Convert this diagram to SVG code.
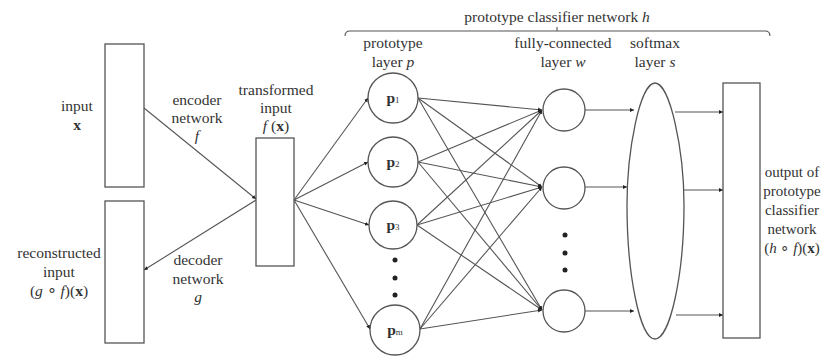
<svg xmlns="http://www.w3.org/2000/svg" width="822" height="356" viewBox="0 0 822 356">
<style>
text{font-family:"Liberation Serif","Times New Roman",serif;font-size:15.5px;fill:#333;text-anchor:middle}
.box{fill:#fff;stroke:#555;stroke-width:1.3}
.ln{fill:none;stroke:#555;stroke-width:1.1}
.b{font-weight:bold}
.i{font-style:italic}
.sub{font-size:9px}
.dot{fill:#222}
.out{font-size:15px}
</style>
<defs>
<marker id="ah" markerUnits="userSpaceOnUse" markerWidth="5" markerHeight="5" refX="4" refY="2.5" orient="auto">
<path d="M0,0.5 L4,2.5 L0,4.5 z" fill="#222"/>
</marker>
</defs>
<rect width="822" height="356" fill="#fff"/>

<g id="connectors">
<line class="ln" x1="144" y1="108" x2="256" y2="199" marker-end="url(#ah)"/>
<line class="ln" x1="256" y1="200" x2="144" y2="270" marker-end="url(#ah)"/>
<line class="ln" x1="294" y1="200" x2="368" y2="98" marker-end="url(#ah)"/>
<line class="ln" x1="294" y1="200" x2="368" y2="162" marker-end="url(#ah)"/>
<line class="ln" x1="294" y1="200" x2="369" y2="225" marker-end="url(#ah)"/>
<line class="ln" x1="294" y1="200" x2="370" y2="329" marker-end="url(#ah)"/>
<line class="ln" x1="418" y1="98" x2="542" y2="110" marker-end="url(#ah)"/>
<line class="ln" x1="418" y1="98" x2="542" y2="187" marker-end="url(#ah)"/>
<line class="ln" x1="418" y1="98" x2="542" y2="310" marker-end="url(#ah)"/>
<line class="ln" x1="418" y1="162" x2="542" y2="110" marker-end="url(#ah)"/>
<line class="ln" x1="418" y1="162" x2="542" y2="187" marker-end="url(#ah)"/>
<line class="ln" x1="418" y1="162" x2="542" y2="310" marker-end="url(#ah)"/>
<line class="ln" x1="417" y1="225" x2="542" y2="110" marker-end="url(#ah)"/>
<line class="ln" x1="417" y1="225" x2="542" y2="187" marker-end="url(#ah)"/>
<line class="ln" x1="417" y1="225" x2="542" y2="310" marker-end="url(#ah)"/>
<line class="ln" x1="420" y1="329" x2="542" y2="110" marker-end="url(#ah)"/>
<line class="ln" x1="420" y1="329" x2="542" y2="187" marker-end="url(#ah)"/>
<line class="ln" x1="420" y1="329" x2="542" y2="310" marker-end="url(#ah)"/>
<line class="ln" x1="585" y1="110" x2="634" y2="110" marker-end="url(#ah)"/>
<line class="ln" x1="585" y1="187" x2="627" y2="187" marker-end="url(#ah)"/>
<line class="ln" x1="585" y1="311" x2="634" y2="311" marker-end="url(#ah)"/>
<line class="ln" x1="675" y1="112" x2="723" y2="112" marker-end="url(#ah)"/>
<line class="ln" x1="683" y1="190" x2="723" y2="190" marker-end="url(#ah)"/>
<line class="ln" x1="676" y1="315" x2="723" y2="315" marker-end="url(#ah)"/>
</g>

<g id="bracket">
<path class="ln" d="M345,36 Q345,31 350,31 L765,31 Q770,31 770,36"/>
<line class="ln" x1="557" y1="31" x2="557" y2="27"/>
<text x="557" y="22">prototype classifier network <tspan class="i">h</tspan></text>
</g>

<g id="input">
<rect class="box" x="105" y="44" width="39" height="143"/>
<text x="77" y="111">input</text>
<text x="77" y="130" class="b">x</text>
</g>

<g id="reconstructed">
<rect class="box" x="105" y="201" width="39" height="142"/>
<text x="59" y="258">reconstructed</text>
<text x="59" y="277">input</text>
<text x="59" y="296">(<tspan class="i">g</tspan> ∘ <tspan class="i">f</tspan>)(<tspan class="b">x</tspan>)</text>
</g>

<g id="encoder-label">
<text x="197" y="105">encoder</text>
<text x="197" y="123">network</text>
<text x="197" y="141" class="i">f</text>
</g>

<g id="decoder-label">
<text x="198" y="265">decoder</text>
<text x="198" y="284">network</text>
<text x="198" y="302" class="i">g</text>
</g>

<g id="transformed">
<rect class="box" x="256" y="138" width="38" height="128"/>
<text x="276" y="95">transformed</text>
<text x="276" y="113">input</text>
<text x="276" y="131"><tspan class="i">f</tspan> (<tspan class="b">x</tspan>)</text>
</g>

<g id="prototype-layer">
<text x="393" y="48">prototype</text>
<text x="393" y="67">layer <tspan class="i">p</tspan></text>
</g>
<g id="p1">
<circle class="box" cx="393" cy="98" r="25"/>
<text x="393" y="103"><tspan class="b">p</tspan><tspan class="sub">1</tspan></text>
</g>
<g id="p2">
<circle class="box" cx="393" cy="162" r="25"/>
<text x="393" y="167"><tspan class="b">p</tspan><tspan class="sub">2</tspan></text>
</g>
<g id="p3">
<circle class="box" cx="393" cy="225" r="24"/>
<text x="393" y="230"><tspan class="b">p</tspan><tspan class="sub">3</tspan></text>
</g>
<g id="p-dots">
<circle class="dot" cx="395" cy="260" r="2.5"/>
<circle class="dot" cx="395" cy="278" r="2.5"/>
<circle class="dot" cx="395" cy="295" r="2.5"/>
</g>
<g id="pm">
<circle class="box" cx="395" cy="330" r="25"/>
<text x="395" y="335"><tspan class="b">p</tspan><tspan class="sub">m</tspan></text>
</g>

<g id="fc-layer">
<text x="563" y="48">fully-connected</text>
<text x="563" y="67">layer <tspan class="i">w</tspan></text>
</g>
<g id="w1"><circle class="box" cx="564" cy="110" r="21"/></g>
<g id="w2"><circle class="box" cx="564" cy="188" r="21"/></g>
<g id="w-dots">
<circle class="dot" cx="565" cy="235" r="2.5"/>
<circle class="dot" cx="565" cy="253" r="2.5"/>
<circle class="dot" cx="565" cy="270" r="2.5"/>
</g>
<g id="w3"><circle class="box" cx="564" cy="311" r="21"/></g>

<g id="softmax">
<text x="655" y="48">softmax</text>
<text x="655" y="67">layer <tspan class="i">s</tspan></text>
<path class="box" d="M655,83 C640,83 627,150 627,205 C627,275 640,339 655,339 C670,339 684,275 684,205 C684,150 670,83 655,83 Z"/>
</g>

<g id="output">
<rect class="box" x="723" y="83" width="37" height="255"/>
<text class="out" x="792" y="177">output of</text>
<text class="out" x="792" y="196">prototype</text>
<text class="out" x="792" y="215">classifier</text>
<text class="out" x="792" y="234">network</text>
<text class="out" x="792" y="253">(<tspan class="i">h</tspan> ∘ <tspan class="i">f</tspan>)(<tspan class="b">x</tspan>)</text>
</g>
</svg>
